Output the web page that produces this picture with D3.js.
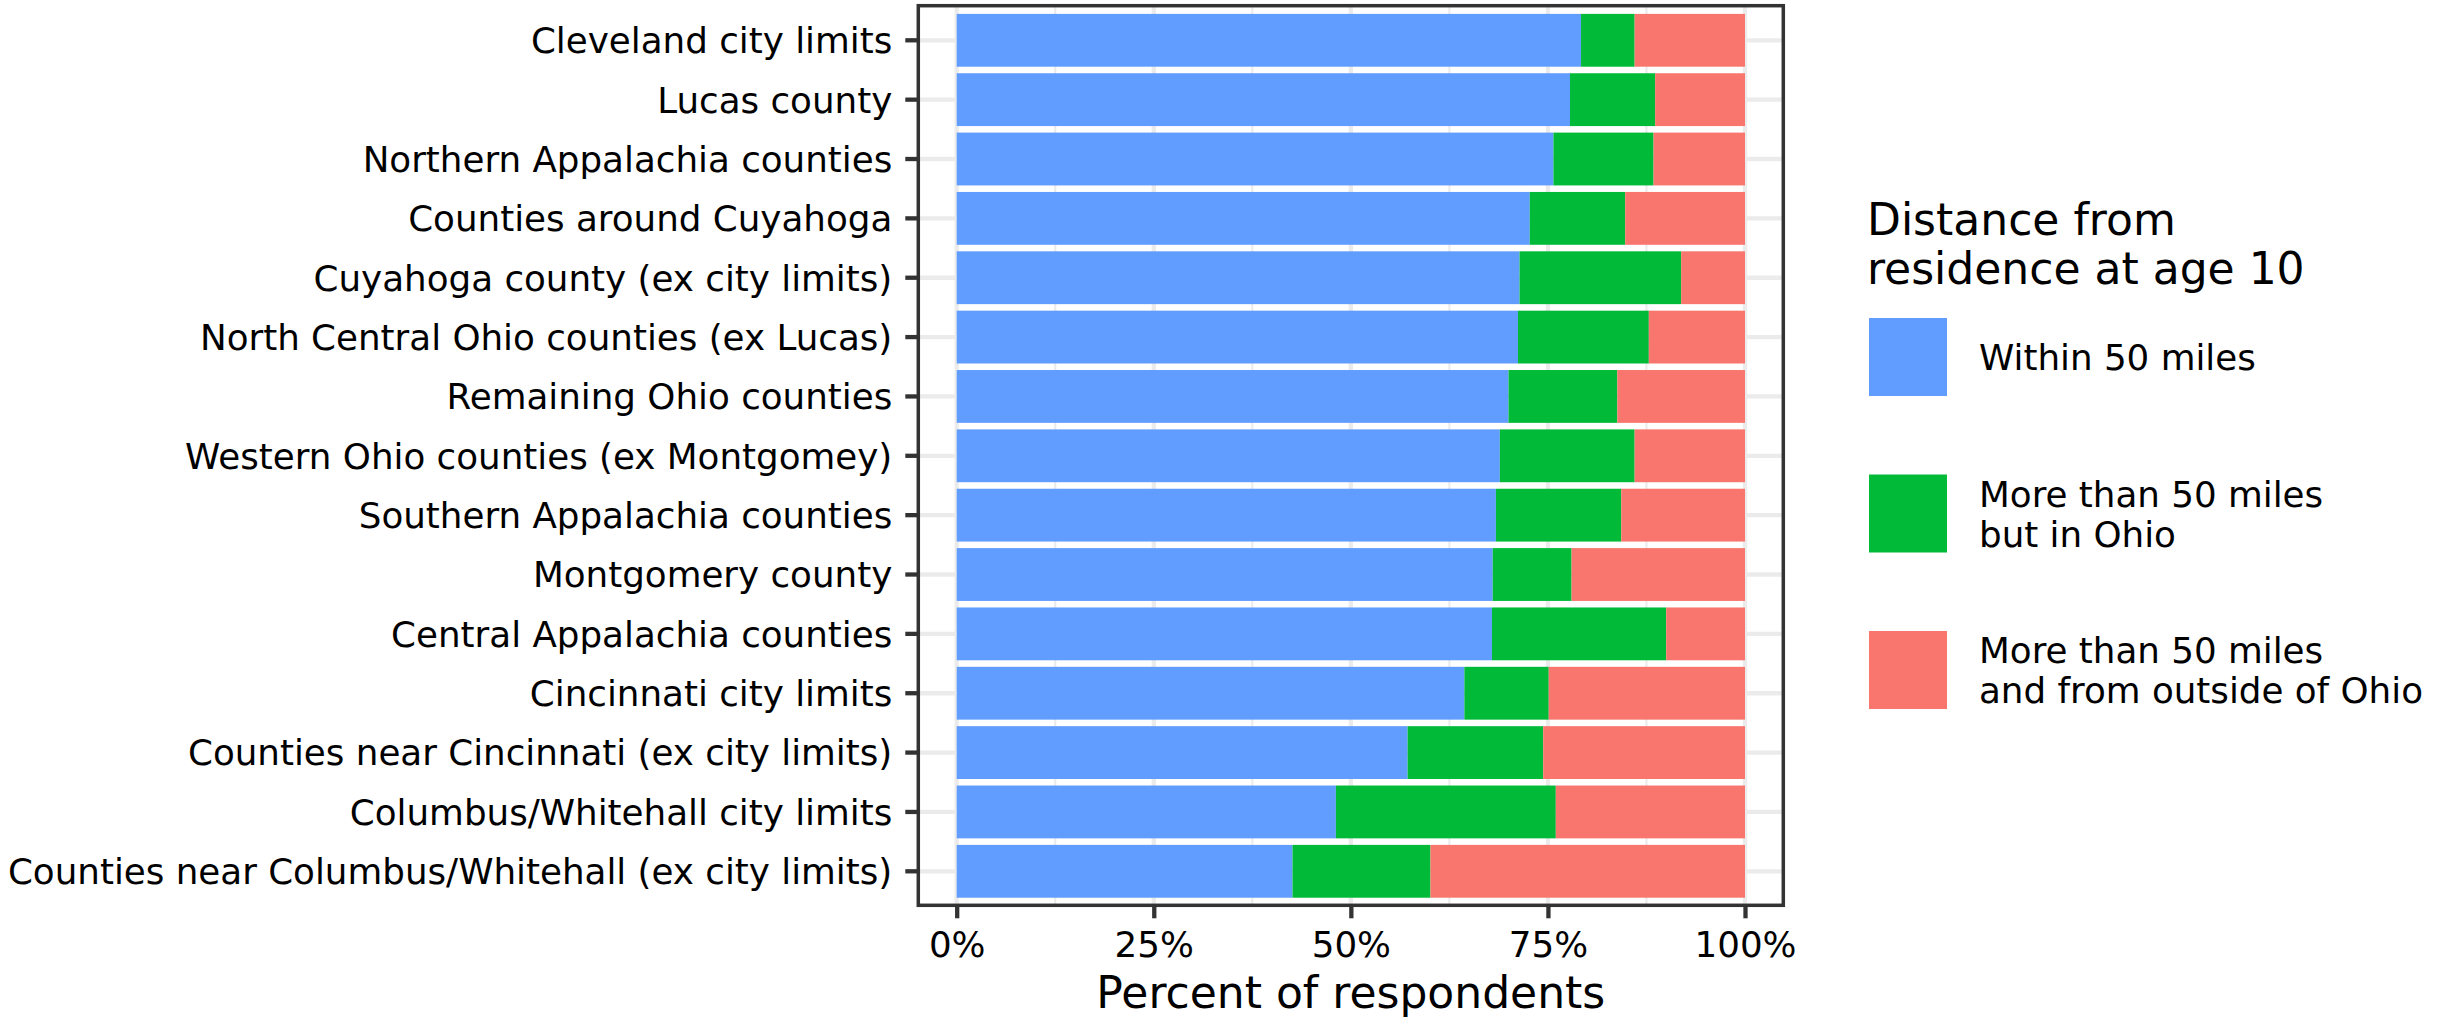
<!DOCTYPE html>
<html>
<head>
<meta charset="utf-8">
<script src="https://cdn.jsdelivr.net/npm/d3@7"></script>
<style>
  html, body { margin: 0; padding: 0; background: #ffffff; }
  svg { display: block; font-family: "DejaVu Sans", sans-serif; }
</style>
</head>
<body>
<svg id="chart" width="2448" height="1018"></svg>
<script>
// ---- data ----
const categories = [
  "Cleveland city limits",
  "Lucas county",
  "Northern Appalachia counties",
  "Counties around Cuyahoga",
  "Cuyahoga county (ex city limits)",
  "North Central Ohio counties (ex Lucas)",
  "Remaining Ohio counties",
  "Western Ohio counties (ex Montgomey)",
  "Southern Appalachia counties",
  "Montgomery county",
  "Central Appalachia counties",
  "Cincinnati city limits",
  "Counties near Cincinnati (ex city limits)",
  "Columbus/Whitehall city limits",
  "Counties near Columbus/Whitehall (ex city limits)"
];
const within50 = [79.2, 77.8, 75.7, 72.7, 71.4, 71.2, 70.0, 68.9, 68.4, 68.0, 67.9, 64.4, 57.2, 48.1, 42.6];
const over50InOhio = [6.8, 10.8, 12.7, 12.1, 20.5, 16.6, 13.8, 17.1, 15.9, 10.0, 22.1, 10.7, 17.2, 27.9, 17.5];
const over50Outside = [14.0, 11.4, 11.6, 15.2, 8.1, 12.2, 16.2, 14.0, 15.7, 22.0, 10.0, 24.9, 25.6, 24.0, 39.9];
const seriesNames = ["Within 50 miles", "More than 50 miles\nbut in Ohio", "More than 50 miles\nand from outside of Ohio"];
const seriesColors = ["#619CFF", "#00BA38", "#F8766D"];
const xTicks = [0, 25, 50, 75, 100];
const xMinorTicks = [12.5, 37.5, 62.5, 87.5];
const xTitle = "Percent of respondents";
const legendTitle = ["Distance from", "residence at age 10"];

// ---- layout ----
const svg = d3.select("#chart");
const panel = { left: 918.3, right: 1783.3, top: 5.7, bottom: 905.3 };
const smallFont = "35.7px";

const x = d3.scaleLinear().domain([0, 100]).range([956.7, 1745]);
const y = d3.scaleBand().domain(categories)
  .range([10.62, 900.98]).paddingInner(0.11).paddingOuter(0.055);

// background
svg.append("rect").attr("width", 2448).attr("height", 1018).attr("fill", "#ffffff");

// grid
const grid = svg.append("g");
grid.selectAll("line.minor").data(xMinorTicks).join("line")
  .attr("x1", d => x(d)).attr("x2", d => x(d))
  .attr("y1", panel.top).attr("y2", panel.bottom)
  .attr("stroke", "#EBEBEB").attr("stroke-width", 2.1);
grid.selectAll("line.majx").data(xTicks).join("line")
  .attr("x1", d => x(d)).attr("x2", d => x(d))
  .attr("y1", panel.top).attr("y2", panel.bottom)
  .attr("stroke", "#EBEBEB").attr("stroke-width", 4.3);
grid.selectAll("line.majy").data(categories).join("line")
  .attr("x1", panel.left).attr("x2", panel.right)
  .attr("y1", d => y(d) + y.bandwidth() / 2).attr("y2", d => y(d) + y.bandwidth() / 2)
  .attr("stroke", "#EBEBEB").attr("stroke-width", 4.3);

// stacked data
const rows = categories.map((c, i) => ({ cat: c, v: [within50[i], over50InOhio[i], over50Outside[i]] }));
const segs = [];
rows.forEach(r => {
  let acc = 0;
  r.v.forEach((val, k) => {
    segs.push({ cat: r.cat, k, x0: acc, x1: acc + val });
    acc += val;
  });
});

svg.append("g").selectAll("rect").data(segs).join("rect")
  .attr("x", d => x(d.x0))
  .attr("width", d => Math.max(0, x(Math.min(d.x1, 100)) - x(d.x0)))
  .attr("y", d => y(d.cat))
  .attr("height", y.bandwidth())
  .attr("fill", d => seriesColors[d.k]);

// panel border
svg.append("rect")
  .attr("x", panel.left).attr("y", panel.top)
  .attr("width", panel.right - panel.left).attr("height", panel.bottom - panel.top)
  .attr("fill", "none").attr("stroke", "#333333").attr("stroke-width", 3.5);

// x axis
const xAxis = svg.append("g")
  .attr("transform", `translate(0,${panel.bottom})`)
  .call(d3.axisBottom(x).tickValues(xTicks).tickFormat(d => d + "%").tickSize(13).tickSizeOuter(0).tickPadding(13.4));
xAxis.select(".domain").remove();
xAxis.selectAll(".tick line").attr("stroke", "#333333").attr("stroke-width", 4.3);
xAxis.selectAll(".tick text").attr("fill", "#000").style("font-size", smallFont).style("font-family", "DejaVu Sans");

// y axis
const yAxis = svg.append("g")
  .attr("transform", `translate(${panel.left},0)`)
  .call(d3.axisLeft(y).tickSize(13).tickSizeOuter(0).tickPadding(13));
yAxis.select(".domain").remove();
yAxis.selectAll(".tick line").attr("stroke", "#333333").attr("stroke-width", 4.3);
yAxis.selectAll(".tick text").attr("fill", "#000").attr("dy", "0.36em")
  .style("font-size", smallFont).style("font-family", "DejaVu Sans");

// x title
svg.append("text")
  .attr("x", (panel.left + panel.right) / 2).attr("y", 1008)
  .attr("text-anchor", "middle").attr("fill", "#000")
  .style("font-size", "44px").text(xTitle);

// legend
const lg = svg.append("g");
lg.selectAll("text.title").data(legendTitle).join("text")
  .attr("x", 1867).attr("y", (d, i) => 235.4 + i * 48.2)
  .attr("fill", "#000").style("font-size", "44px").text(d => d);

const keyTop = [318, 474.5, 631];
const keySize = 78;
seriesNames.forEach((name, k) => {
  lg.append("rect")
    .attr("x", 1869).attr("y", keyTop[k])
    .attr("width", keySize).attr("height", keySize)
    .attr("fill", seriesColors[k]);
  const lines = name.split("\n");
  const cy = keyTop[k] + keySize / 2;
  const lh = 39.8;
  const firstBase = cy + 13.2 - (lines.length - 1) * lh / 2;
  lines.forEach((ln, j) => {
    lg.append("text")
      .attr("x", 1979).attr("y", firstBase + j * lh)
      .attr("fill", "#000").style("font-size", smallFont).text(ln);
  });
});
</script>
</body>
</html>
